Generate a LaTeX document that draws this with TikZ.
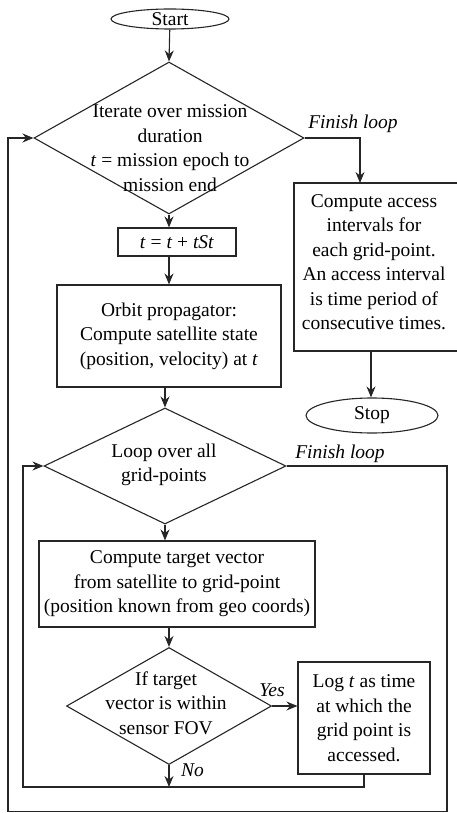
\documentclass[tikz,border=0pt]{standalone}
\usepackage{fontspec}
\setmainfont{Liberation Serif}
\usetikzlibrary{shapes.geometric,arrows.meta,calc}
\begin{document}
\begin{tikzpicture}[x=1pt,y=-1pt,
  every node/.style={font=\fontsize{19.5}{24.5}\selectfont, inner sep=0pt},
  box/.style={draw=black!85, line width=1.1pt, rectangle, align=center},
  dia/.style={draw=black!85, line width=1.1pt, diamond},
  term/.style={draw=black!85, line width=1.1pt, ellipse, align=center},
  txt/.style={align=center},
  lbl/.style={font=\fontsize{19.5}{24.5}\selectfont\itshape},
  conn/.style={draw=black!85, line width=1.1pt},
  arr/.style={conn, -{Stealth[length=11pt,width=9pt]}}]
\useasboundingbox (0,0) rectangle (457,813);
% nodes
\node[term, minimum width=118, minimum height=20] (start) at (170,19) {Start};
\node[dia, minimum width=270, minimum height=152] (d1) at (169,138) {};
\node[txt] (d1t) at (170,148) {Iterate over mission\\duration\\\textit{t} = mission epoch to\\mission end};
\node[box, minimum width=118, minimum height=28] (tb) at (177,242) {\textit{t} = \textit{t} + \textit{tSt}};
\node[box, minimum width=224, minimum height=102] (ob) at (169,336) {Orbit propagator:\\Compute satellite state\\(position, velocity) at \textit{t}};
\node[dia, minimum width=242, minimum height=116] (d2) at (165,466) {};
\node[txt] (d2t) at (164,465) {Loop over all\\grid-points};
\node[box, minimum width=276, minimum height=86] (cb) at (177,584) {Compute target vector\\from satellite to grid-point\\(position known from geo coords)};
\node[dia, minimum width=205, minimum height=117] (d3) at (169,706) {};
\node[txt] (d3t) at (166,703) {If target\\vector is within\\sensor FOV};
\node[box, minimum width=132, minimum height=112] (lb) at (364,718) {Log \textit{t} as time\\at which the\\grid point is\\accessed.};
\node[box, minimum width=170, minimum height=168] (rb) at (379,267) {};
\node[txt] (rbt) at (374,262) {Compute access\\intervals for\\each grid-point.\\An access interval\\is time period of\\consecutive times.};
\node[term, minimum width=132, minimum height=35] (stop) at (372,415.5) {Stop};
% labels
\node[lbl] (f1) at (353,124) {Finish loop};
\node[lbl] (f2) at (340,454) {Finish loop};
\node[lbl] (yes) at (272,690) {Yes};
\node[lbl, anchor=west] (no) at (181,770) {No};
% coordinates
\coordinate (rbin) at (360,183);
\coordinate (rbout) at (371,351);
\coordinate (nob) at (169,787);
\coordinate (ilc) at (23,787);
\coordinate (oc1) at (447,811.5);
\coordinate (oc2) at (8,811.5);
% connectors
\draw[arr] (start) -- (d1.north);
\draw[arr] (d1.east) -| (rbin);
\draw[arr] (rbout) -- (rbout |- stop.north);
\draw[arr] (d1.south) -- (d1.south |- tb.north);
\draw[arr] (ob.north |- tb.south) -- (ob.north);
\draw[arr] (d2.north |- ob.south) -- (d2.north);
\draw[arr] (d2.south) -- (d2.south |- cb.north);
\draw[arr] (d3.north |- cb.south) -- (d3.north);
\draw[arr] (d3.east) -- (d3.east -| lb.west);
\draw[arr] (d3.south) -- (nob);
\draw[arr] (lb.south) |- (ilc) |- (d2.west);
\draw[arr] (d2.east) -| (oc1) -- (oc2) |- (d1.west);
\end{tikzpicture}
\end{document}
